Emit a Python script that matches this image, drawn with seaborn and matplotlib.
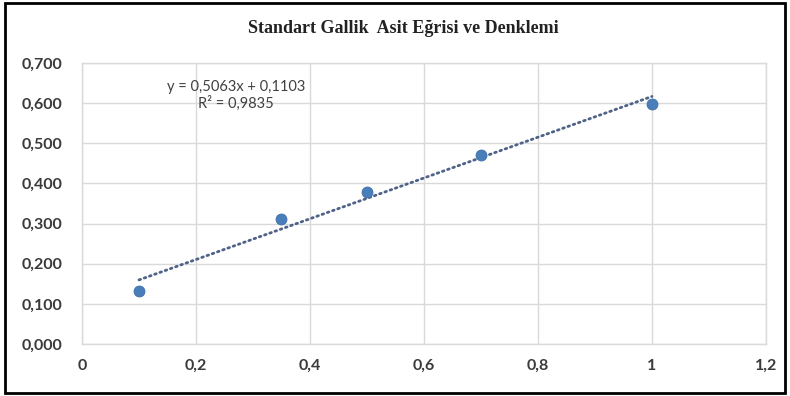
import matplotlib
matplotlib.use("Agg")
import matplotlib.pyplot as plt
from matplotlib.patches import Rectangle
import numpy as np
import pandas as pd
import seaborn as sns

# gallic acid standard curve
conc = [0.1, 0.35, 0.5, 0.7, 1.0]
absorb = [0.131, 0.311, 0.378, 0.472, 0.598]

x_ticks = [0, 0.2, 0.4, 0.6, 0.8, 1.0, 1.2]
x_labels = ["0", "0,2", "0,4", "0,6", "0,8", "1", "1,2"]
y_ticks = [0, 0.1, 0.2, 0.3, 0.4, 0.5, 0.6, 0.7]
y_labels = ["0,000", "0,100", "0,200", "0,300", "0,400", "0,500", "0,600", "0,700"]

title = "Standart Gallik  Asit Eğrisi ve Denklemi"
eq_text = "y = 0,5063x + 0,1103"
r2_text = "R² = 0,9835"

df = pd.DataFrame({"conc": conc, "absorb": absorb})

sns.set_style("white")
plt.rcParams["font.family"] = ["Lato", "DejaVu Sans"]

fig = plt.figure(figsize=(7.9, 3.96), dpi=100)
ax = fig.add_axes([0.1038, 0.1313, 0.8658, 0.7097])

# trendline
sns.regplot(data=df, x="conc", y="absorb", ax=ax, ci=None, scatter=False,
            truncate=True,
            line_kws={"color": "#4f6288", "lw": 2, "ls": (0, (0.6, 1.4)),
                      "dash_capstyle": "round", "zorder": 2})
# points
sns.scatterplot(data=df, x="conc", y="absorb", ax=ax, s=62, color="#4a7ebb",
                edgecolor="#3f6fa8", linewidth=0.6, zorder=3)

ax.set_xlim(0, 1.2)
ax.set_ylim(0, 0.7)
ax.set_xticks(x_ticks)
ax.set_xticklabels(x_labels)
ax.set_yticks(y_ticks)
ax.set_yticklabels(y_labels)
ax.set_xlabel("")
ax.set_ylabel("")
ax.grid(True, color="#d9d9d9", lw=1)
ax.set_axisbelow(True)
for s in ax.spines.values():
    s.set_color("#d9d9d9")
    s.set_linewidth(1)
ax.tick_params(axis="both", length=0, labelsize=11.5, labelcolor="#3a3a3a")
ax.tick_params(axis="x", pad=11)
ax.tick_params(axis="y", pad=14)
for lbl in ax.get_xticklabels() + ax.get_yticklabels():
    lbl.set_fontweight("bold")

ax.text(0.27, 0.641, eq_text, ha="center", va="center", fontsize=10.5,
        color="#404040")
ax.text(0.27, 0.600, r2_text, ha="center", va="center", fontsize=10.5,
        color="#404040")

fig.text(0.511, 0.928, title, ha="center", va="center", fontsize=13,
         family="Liberation Serif", fontweight="bold", color="#222222")

fig.patches.append(Rectangle((0.006, 0.008), 0.988, 0.985, transform=fig.transFigure,
                             fill=False, edgecolor="black", lw=2))

fig.savefig("out.png", dpi=100)
